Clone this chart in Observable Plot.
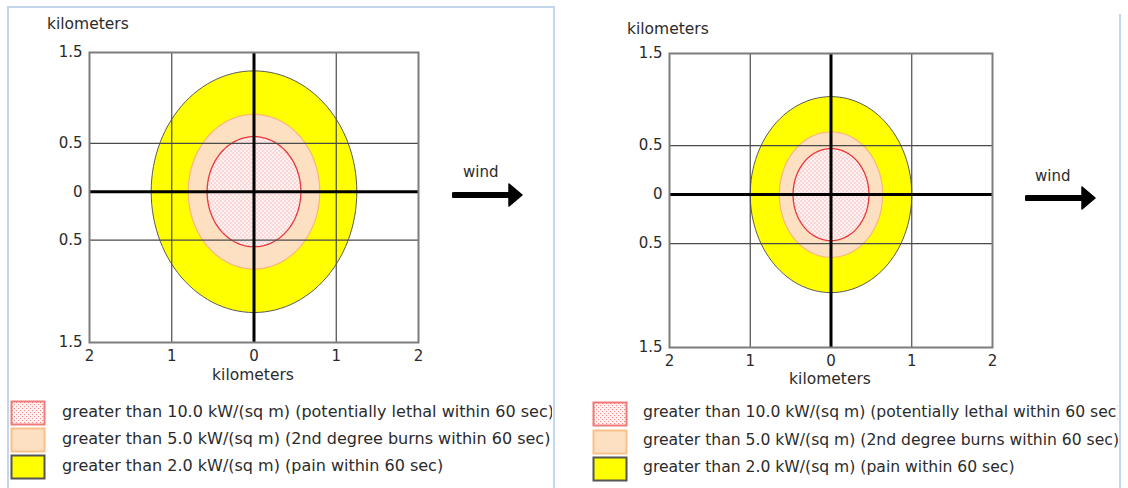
<!DOCTYPE html>
<html>
<head>
<meta charset="utf-8">
<script src="https://cdn.jsdelivr.net/npm/d3@7"></script>
<script src="https://cdn.jsdelivr.net/npm/@observablehq/plot@0.6"></script>
<style>
  html, body { margin: 0; padding: 0; background: #fff; }
  body { font-family: "DejaVu Sans", sans-serif; color: #2b2b2b; }
  #root { position: relative; width: 1128px; height: 488px; overflow: hidden; background: #fff; }
  .abs { position: absolute; }
  .txt { position: absolute; white-space: nowrap; line-height: 1; color: #2b2b2b; }
  .clip { position: absolute; overflow: hidden; }
</style>
</head>
<body>
<svg width="0" height="0" style="position:absolute">
  <defs>
    <pattern id="dots" width="4" height="4" patternUnits="userSpaceOnUse">
      <rect width="4" height="4" fill="#fff4f4"></rect>
      <rect x="0" y="0" width="1.1" height="1.1" fill="#f08a8a"></rect>
      <rect x="2" y="2" width="1.1" height="1.1" fill="#f08a8a"></rect>
    </pattern>
  </defs>
</svg>
<div id="root"></div>
<script>
// ---------- data ----------
const xTicks = [-2, -1, 0, 1, 2];
const xTickLabels = ["2", "1", "0", "1", "2"];
const yTicks = [-1.56, -0.5, 0, 0.5, 1.44];
const yTickLabels = ["1.5", "0.5", "0", "0.5", "1.5"];
const gridX = [-1, 1];
const gridY = [-0.5, 0.5];
const centerLines = [0];
const zoneLabels = [
  "greater than 10.0 kW/(sq m) (potentially lethal within 60 sec)",
  "greater than 5.0 kW/(sq m) (2nd degree burns within 60 sec)",
  "greater than 2.0 kW/(sq m) (pain within 60 sec)"
];
// threat zone radii (km), order: 10.0, 5.0, 2.0 kW/(sq m)
const radiiLeft = [0.57, 0.80, 1.25];
const radiiRight = [0.47, 0.64, 1.00];
const axisTitle = "kilometers";
const windLabel = "wind";

// ---------- styles ----------
const zoneStyle = [
  {fill: "url(#dots)", stroke: "#e8363c", strokeWidth: 1.3},
  {fill: "#fddfc1", stroke: "#fbb679", strokeWidth: 1.2},
  {fill: "#ffff00", stroke: "#5a5a5a", strokeWidth: 1}
];
const swatchStyle = [
  {fill: "url(#dots)", stroke: "#f07a7a"},
  {fill: "#fde0c2", stroke: "#fbc089"},
  {fill: "#ffff00", stroke: "#555555"}
];

const panels = [
  {left: 0, width: 553, mL: 89, mR: 135, mT: 52, mB: 58, radii: radiiLeft, font: 15, legendFont: 16,
   yTitle: [47, 26], xTitle: [253, 377], wind: [463, 173], arrow: [452, 195],
   legendX: 10, textX: 62, rows: [413, 440, 467], clipR: 552},
  {left: 560, width: 560, mL: 109, mR: 128, mT: 53, mB: 53, radii: radiiRight, font: 15, legendFont: 15.6,
   yTitle: [627, 31], xTitle: [830, 381], wind: [1035, 177], arrow: [1025, 198],
   legendX: 592, textX: 643, rows: [414, 442, 469], clipR: 1118}
];

const root = document.getElementById("root");

function ring(r) {
  return d3.range(0, 360, 3).map(a => ({x: r * Math.cos(a * Math.PI / 180), y: r * Math.sin(a * Math.PI / 180)}));
}

function addText(str, x, yc, size, anchor) {
  const d = document.createElement("div");
  d.className = "txt";
  d.style.fontSize = size + "px";
  d.textContent = str;
  d.style.top = (yc - size * 0.55) + "px";
  d.style.left = x + "px";
  if (anchor === "middle") d.style.transform = "translateX(-50%)";
  root.appendChild(d);
  return d;
}

// panel borders
const b1 = document.createElement("div");
b1.className = "abs";
Object.assign(b1.style, {left: "7px", top: "6px", width: "544px", height: "500px",
  borderLeft: "2px solid #c3d6ec", borderTop: "2px solid #c3d6ec", borderRight: "2px solid #c3d6ec"});
root.appendChild(b1);
const b2 = document.createElement("div");
b2.className = "abs";
Object.assign(b2.style, {left: "1119px", top: "14px", width: "0px", height: "480px", borderLeft: "2px solid #c3d6ec"});
root.appendChild(b2);

panels.forEach(p => {
  const marks = [];
  [2, 1, 0].forEach(i => {
    marks.push(Plot.line(ring(p.radii[i]), {x: "x", y: "y", curve: "linear-closed", ...zoneStyle[i]}));
  });
  marks.push(Plot.ruleX(gridX, {stroke: "#4a4a4a", strokeWidth: 1.2}));
  marks.push(Plot.ruleY(gridY, {stroke: "#4a4a4a", strokeWidth: 1.2}));
  marks.push(Plot.ruleX(centerLines, {stroke: "#000", strokeWidth: 3}));
  marks.push(Plot.ruleY(centerLines, {stroke: "#000", strokeWidth: 3}));
  marks.push(Plot.frame({stroke: "#7d7d7d", strokeWidth: 2}));

  const chart = Plot.plot({
    width: p.width,
    height: 400,
    marginLeft: p.mL, marginRight: p.mR, marginTop: p.mT, marginBottom: p.mB,
    x: {domain: [-2, 2], ticks: xTicks, tickFormat: d => xTickLabels[xTicks.indexOf(d)],
        tickSize: 0, tickPadding: 8, label: null},
    y: {domain: [-1.56, 1.44], ticks: yTicks, tickFormat: d => yTickLabels[yTicks.indexOf(d)],
        tickSize: 0, tickPadding: 7, label: null},
    style: {fontFamily: "DejaVu Sans", fontSize: p.font + "px", color: "#2b2b2b", background: "transparent", overflow: "visible"},
    marks
  });
  chart.style.position = "absolute";
  chart.style.left = p.left + "px";
  chart.style.top = "0px";
  root.appendChild(chart);

  addText(axisTitle, p.yTitle[0], p.yTitle[1], 15.5);
  addText(axisTitle, p.xTitle[0], p.xTitle[1], 15.5, "middle");
  addText(windLabel, p.wind[0], p.wind[1], 15);

  // wind arrow
  const ns = "http://www.w3.org/2000/svg";
  const a = document.createElementNS(ns, "svg");
  a.setAttribute("width", 80); a.setAttribute("height", 30);
  a.style.position = "absolute";
  a.style.left = p.arrow[0] + "px";
  a.style.top = (p.arrow[1] - 15) + "px";
  a.innerHTML = '<line x1="2" y1="15" x2="60" y2="15" stroke="#000" stroke-width="6" stroke-linecap="round"></line>' +
                '<path d="M57,4 L70,15 L57,26 Z" fill="#000" stroke="#000" stroke-width="1.5" stroke-linejoin="round"></path>';
  root.appendChild(a);

  // legend
  const clip = document.createElement("div");
  clip.className = "clip";
  Object.assign(clip.style, {left: p.legendX + "px", top: "395px", width: (p.clipR - p.legendX) + "px", height: "93px"});
  root.appendChild(clip);
  zoneLabels.forEach((lab, i) => {
    const yc = p.rows[i] - 395;
    const s = document.createElementNS(ns, "svg");
    s.setAttribute("width", 36); s.setAttribute("height", 26);
    s.style.position = "absolute";
    s.style.left = "0px";
    s.style.top = (yc - 13) + "px";
    s.innerHTML = `<rect x="1.5" y="1.5" width="33" height="23" fill="${swatchStyle[i].fill}" stroke="${swatchStyle[i].stroke}" stroke-width="2"></rect>`;
    clip.appendChild(s);
    const t = document.createElement("div");
    t.className = "txt";
    t.style.fontSize = p.legendFont + "px";
    t.style.left = (p.textX - p.legendX) + "px";
    t.style.top = (yc - p.legendFont * 0.55) + "px";
    t.textContent = lab;
    clip.appendChild(t);
  });
});
</script>
</body>
</html>
